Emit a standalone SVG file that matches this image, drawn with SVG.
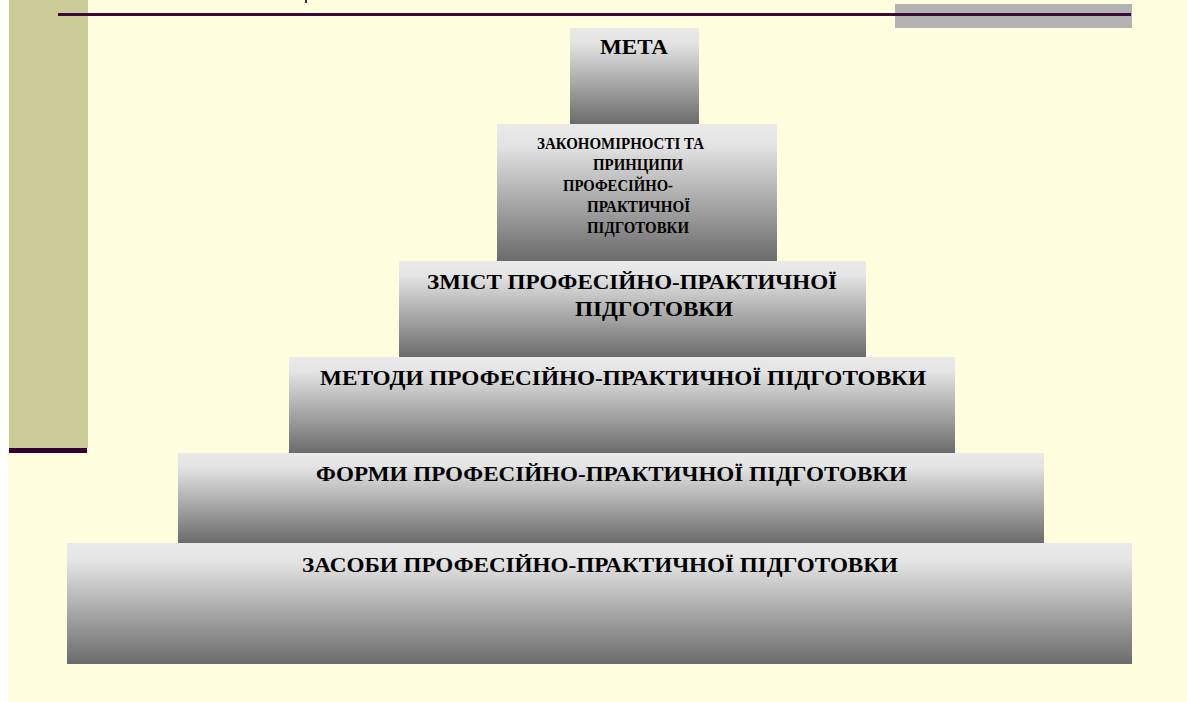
<svg xmlns="http://www.w3.org/2000/svg" width="1187" height="702" viewBox="0 0 1187 702">
  <defs>
    <linearGradient id="g" x1="0" y1="0" x2="0" y2="1">
      <stop offset="0" stop-color="#EAEAEA"/>
      <stop offset="0.15" stop-color="#E4E4E4"/>
      <stop offset="1" stop-color="#6B6B6B"/>
    </linearGradient>
    <style>
      .box { fill: url(#g); }
      .t { font-family: "Liberation Serif", "Times New Roman", serif; font-weight: bold; fill: #000; }
      .big { font-size: 22px; }
      .small { font-size: 17px; }
    </style>
  </defs>
  <!-- background -->
  <rect x="0" y="0" width="1187" height="702" fill="#FFFFFF"/>
  <rect x="8" y="0" width="1179" height="702" fill="#FFFFE0"/>
  <rect x="9" y="0" width="79" height="448" fill="#CCCC99"/>
  <rect x="9" y="448" width="78" height="5" fill="#330033"/>
  <rect x="895" y="4" width="237" height="24" fill="#B3B3B3"/>
  <rect x="58" y="13" width="1073" height="3" fill="#3A0A3A"/>
  <rect x="305" y="0" width="2" height="3" fill="#4A1A4A"/>

  <g id="connectors"></g>

  <g id="meta">
    <rect class="box" x="570" y="28" width="129" height="96"/>
    <text class="t big" x="600" y="54" textLength="68" lengthAdjust="spacingAndGlyphs">МЕТА</text>
  </g>
  <g id="zakonomirnosti">
    <rect class="box" x="497" y="124" width="280" height="137"/>
    <text class="t small" x="537" y="149" textLength="167" lengthAdjust="spacingAndGlyphs">ЗАКОНОМІРНОСТІ ТА</text>
    <text class="t small" x="593" y="170" textLength="90" lengthAdjust="spacingAndGlyphs">ПРИНЦИПИ</text>
    <text class="t small" x="563" y="191" textLength="110" lengthAdjust="spacingAndGlyphs">ПРОФЕСІЙНО-</text>
    <text class="t small" x="587" y="212" textLength="103" lengthAdjust="spacingAndGlyphs">ПРАКТИЧНОЇ</text>
    <text class="t small" x="587" y="233" textLength="102" lengthAdjust="spacingAndGlyphs">ПІДГОТОВКИ</text>
  </g>
  <g id="zmist">
    <rect class="box" x="399" y="261" width="467" height="96"/>
    <text class="t big" x="427" y="289" textLength="410" lengthAdjust="spacingAndGlyphs">ЗМІСТ ПРОФЕСІЙНО-ПРАКТИЧНОЇ</text>
    <text class="t big" x="575" y="316" textLength="158" lengthAdjust="spacingAndGlyphs">ПІДГОТОВКИ</text>
  </g>
  <g id="metody">
    <rect class="box" x="289" y="357" width="666" height="96"/>
    <text class="t big" x="320" y="385" textLength="606" lengthAdjust="spacingAndGlyphs">МЕТОДИ ПРОФЕСІЙНО-ПРАКТИЧНОЇ ПІДГОТОВКИ</text>
  </g>
  <g id="formy">
    <rect class="box" x="178" y="453" width="866" height="90"/>
    <text class="t big" x="316" y="481" textLength="591" lengthAdjust="spacingAndGlyphs">ФОРМИ ПРОФЕСІЙНО-ПРАКТИЧНОЇ ПІДГОТОВКИ</text>
  </g>
  <g id="zasoby">
    <rect class="box" x="67" y="543" width="1065" height="121"/>
    <text class="t big" x="302" y="572" textLength="596" lengthAdjust="spacingAndGlyphs">ЗАСОБИ ПРОФЕСІЙНО-ПРАКТИЧНОЇ ПІДГОТОВКИ</text>
  </g>
</svg>
